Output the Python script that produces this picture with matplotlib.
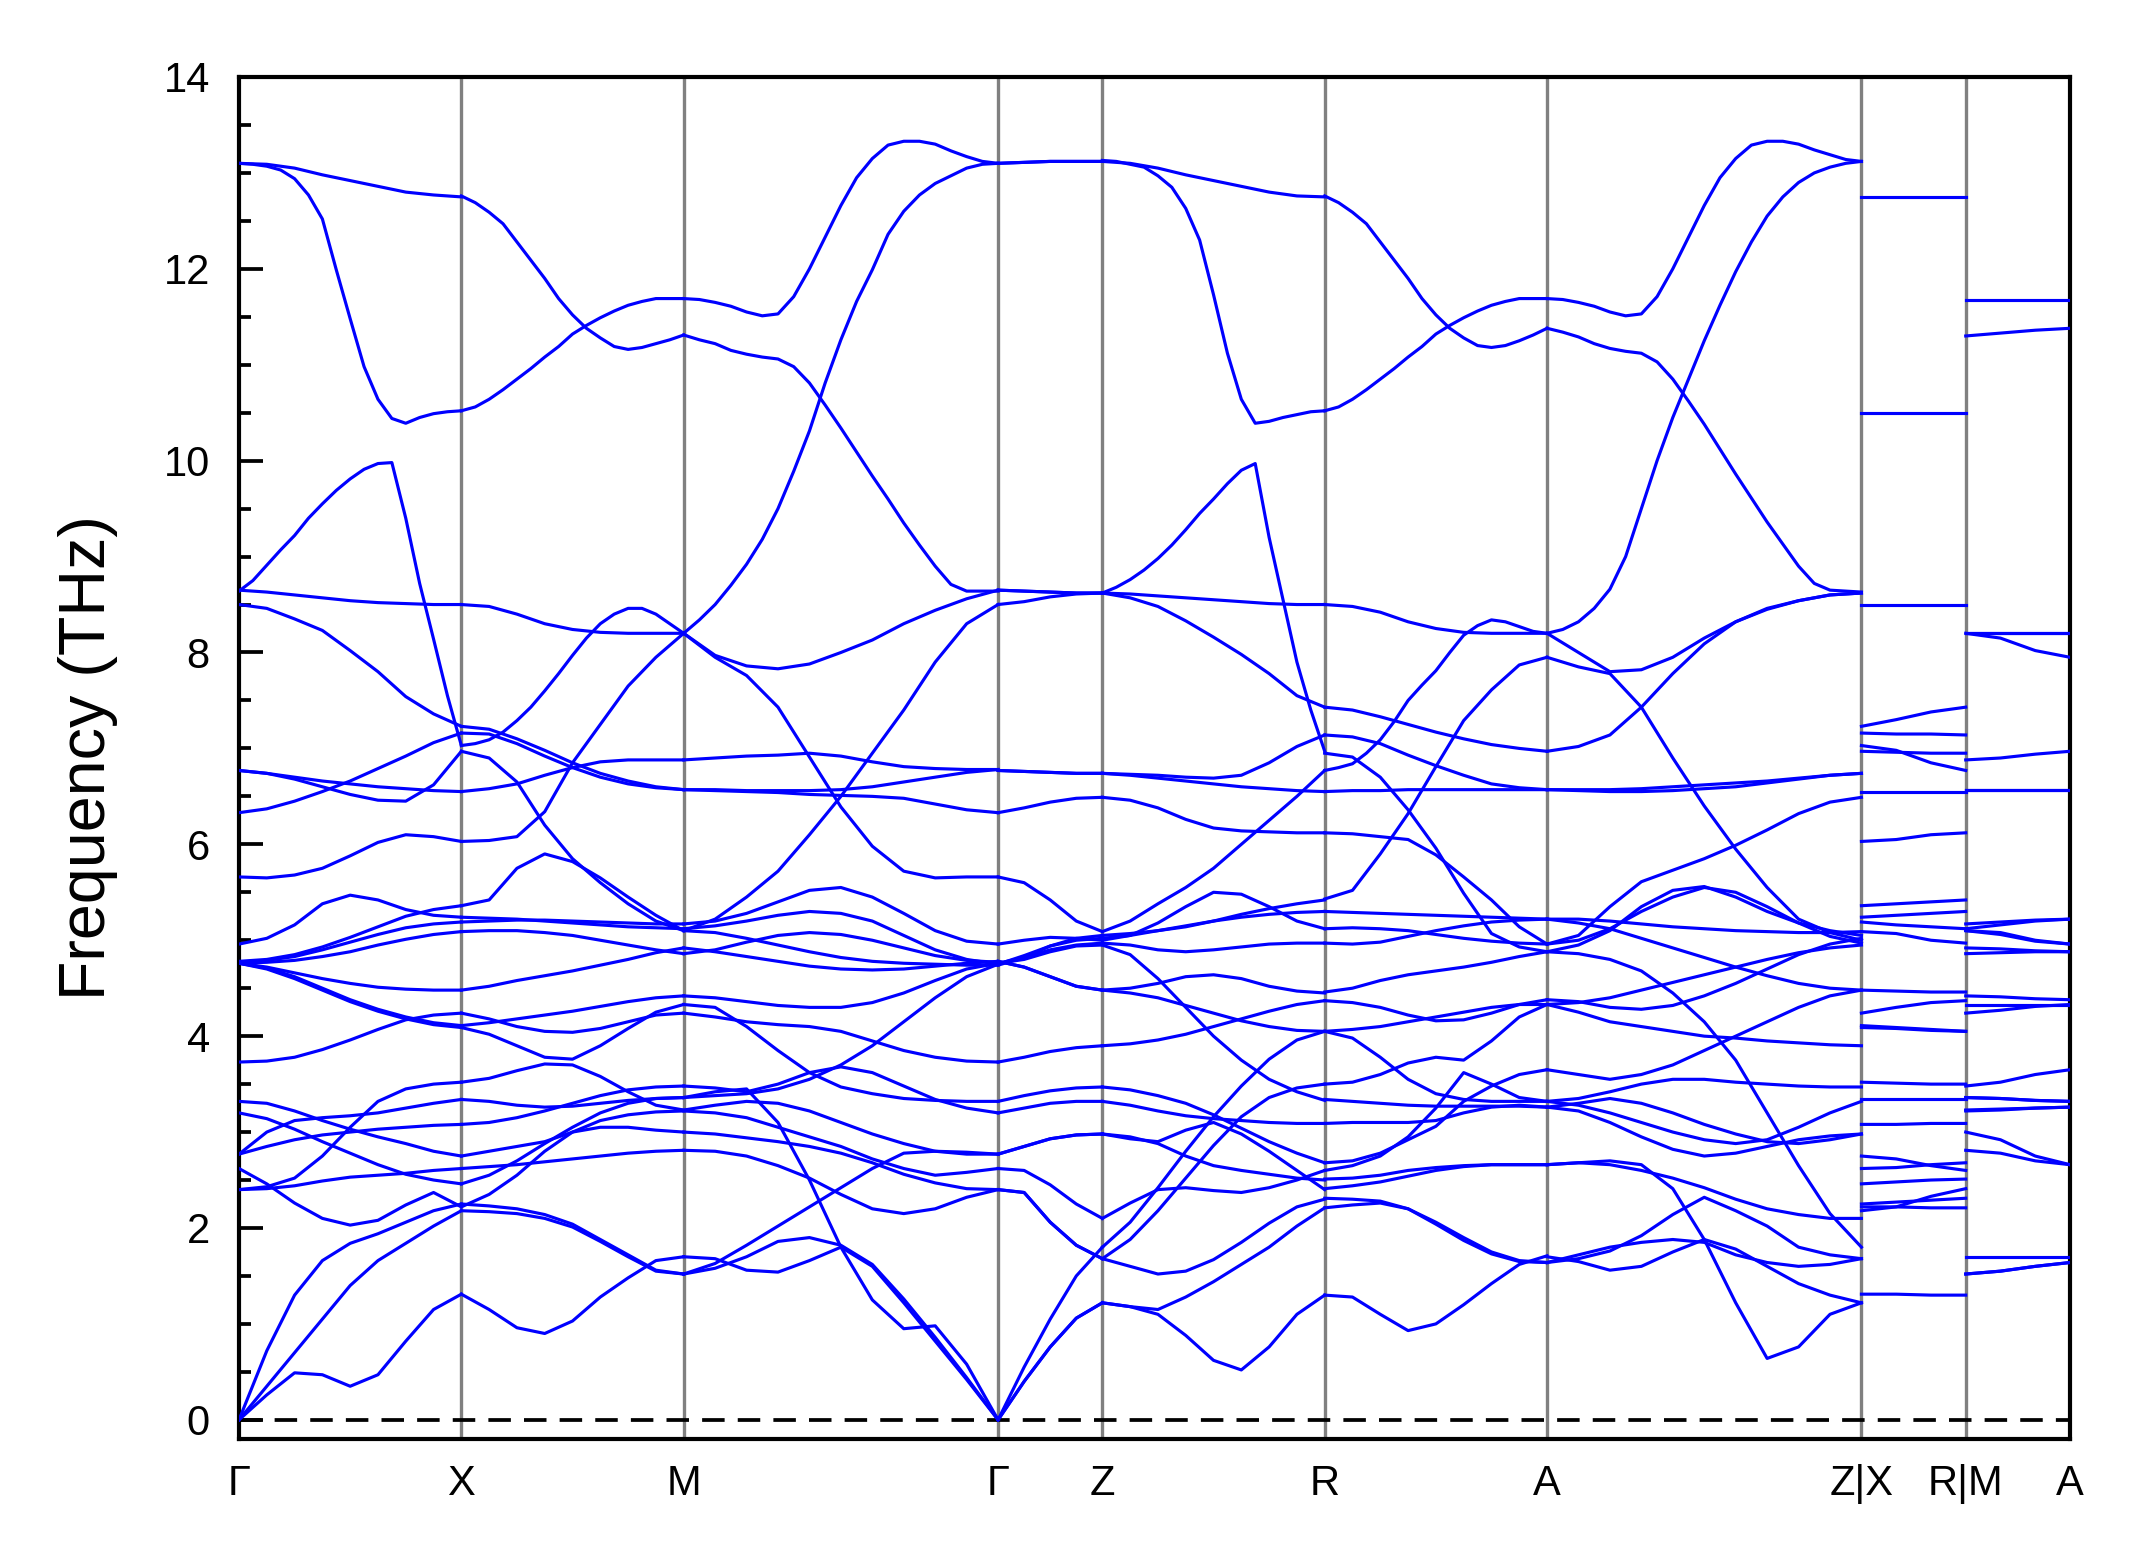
import matplotlib
matplotlib.use("Agg")
import matplotlib.pyplot as plt
import numpy as np
from matplotlib.ticker import MultipleLocator

plt.rcParams['font.family'] = ['Liberation Sans', 'DejaVu Sans']

# ---------------- data ----------------
LABELS = ['Γ', 'X', 'M', 'Γ', 'Z', 'R', 'A', 'Z|X', 'R|M', 'A']
# k-path segment lengths (Γ-X, X-M, M-Γ, Γ-Z, Z-R, R-A, A-Z, X-R, M-A)
SEG_LEN = [1.0, 1.0, 1.414, 0.469, 1.0, 1.0, 1.414, 0.469, 0.469]

# each list: band frequencies (THz) read at evenly spaced points along the segment
GX = [
    [13.1, 13.09, 13.05, 12.98, 12.92, 12.86, 12.8, 12.77, 12.75],
    [13.1, 13.09, 13.07, 13.03, 12.94, 12.77, 12.52, 11.99, 11.48, 10.98, 10.64,
     10.44, 10.39, 10.45, 10.49, 10.51, 10.52],
    [8.64, 8.75, 8.91, 9.07, 9.22, 9.4, 9.55, 9.69, 9.81, 9.91, 9.97, 9.98, 9.4,
     8.72, 8.14, 7.55, 7.03],
    [8.65, 8.63, 8.6, 8.57, 8.54, 8.52, 8.51, 8.5, 8.5],
    [8.5, 8.46, 8.35, 8.23, 8.02, 7.8, 7.54, 7.36, 7.23],
    [6.33, 6.37, 6.45, 6.55, 6.66, 6.79, 6.92, 7.06, 7.16],
    [6.77, 6.74, 6.7, 6.66, 6.63, 6.6, 6.58, 6.56, 6.55],
    [6.77, 6.74, 6.68, 6.6, 6.52, 6.46, 6.45, 6.62, 6.97],
    [5.66, 5.65, 5.68, 5.75, 5.88, 6.02, 6.1, 6.08, 6.03],
    [4.96, 5.02, 5.16, 5.38, 5.47, 5.42, 5.32, 5.26, 5.24],
    [4.78, 4.8, 4.85, 4.93, 5.03, 5.14, 5.25, 5.32, 5.36],
    [4.77, 4.79, 4.83, 4.9, 4.98, 5.06, 5.13, 5.17, 5.19],
    [4.76, 4.77, 4.79, 4.83, 4.88, 4.95, 5.01, 5.06, 5.09],
    [4.76, 4.72, 4.66, 4.6, 4.55, 4.51, 4.49, 4.48, 4.48],
    [4.76, 4.7, 4.6, 4.48, 4.36, 4.26, 4.18, 4.12, 4.09],
    [4.76, 4.71, 4.62, 4.5, 4.38, 4.28, 4.2, 4.14, 4.11],
    [3.73, 3.74, 3.78, 3.86, 3.96, 4.07, 4.17, 4.22, 4.24],
    [2.40, 2.41, 2.44, 2.49, 2.53, 2.55, 2.57, 2.6, 2.62],
    [2.40, 2.43, 2.52, 2.75, 3.05, 3.32, 3.45, 3.5, 3.52],
    [2.77, 3.0, 3.12, 3.15, 3.17, 3.2, 3.25, 3.3, 3.34],
    [2.77, 2.85, 2.92, 2.97, 3.0, 3.03, 3.05, 3.07, 3.08],
    [3.2, 3.14, 3.03, 2.9, 2.78, 2.66, 2.56, 2.5, 2.46],
    [3.32, 3.3, 3.22, 3.12, 3.03, 2.95, 2.88, 2.8, 2.75],
    [2.62, 2.46, 2.26, 2.1, 2.03, 2.08, 2.24, 2.37, 2.22],
    [0.0, 0.26, 0.49, 0.47, 0.35, 0.47, 0.82, 1.15, 1.31],
    [0.0, 0.35, 0.7, 1.05, 1.4, 1.66, 1.84, 2.02, 2.18],
    [0.0, 0.72, 1.3, 1.66, 1.84, 1.94, 2.06, 2.18, 2.25],
]

XM = [
    [12.76, 12.69, 12.59, 12.47, 12.28, 12.09, 11.9, 11.69, 11.52, 11.38, 11.28,
     11.19, 11.16, 11.18, 11.22, 11.26, 11.31],
    [10.52, 10.56, 10.64, 10.74, 10.85, 10.96, 11.08, 11.19, 11.32, 11.41, 11.49,
     11.56, 11.62, 11.66, 11.69, 11.69, 11.69],
    [8.5, 8.48, 8.4, 8.3, 8.24, 8.21, 8.2, 8.2, 8.2],
    [7.03, 7.05, 7.09, 7.17, 7.29, 7.43, 7.6, 7.78, 7.97, 8.15, 8.3, 8.4, 8.46,
     8.46, 8.4, 8.3, 8.2],
    [6.03, 6.04, 6.08, 6.34, 6.85, 7.25, 7.65, 7.95, 8.2],
    [7.23, 7.2, 7.1, 6.98, 6.85, 6.74, 6.66, 6.6, 6.57],
    [7.16, 7.15, 7.05, 6.92, 6.8, 6.7, 6.63, 6.59, 6.57],
    [6.97, 6.9, 6.65, 6.2, 5.85, 5.6, 5.38, 5.2, 5.1],
    [6.55, 6.58, 6.63, 6.72, 6.8, 6.86, 6.88, 6.88, 6.88],
    [5.36, 5.42, 5.75, 5.9, 5.82, 5.65, 5.45, 5.26, 5.1],
    [5.24, 5.23, 5.22, 5.2, 5.18, 5.16, 5.14, 5.13, 5.12],
    [5.19, 5.2, 5.21, 5.21, 5.2, 5.19, 5.18, 5.17, 5.17],
    [5.09, 5.1, 5.1, 5.08, 5.05, 5.0, 4.95, 4.9, 4.86],
    [4.48, 4.52, 4.58, 4.63, 4.68, 4.74, 4.8, 4.87, 4.92],
    [4.24, 4.18, 4.1, 4.05, 4.04, 4.08, 4.15, 4.22, 4.24],
    [4.11, 4.14, 4.18, 4.22, 4.26, 4.31, 4.36, 4.4, 4.42],
    [4.09, 4.02, 3.9, 3.78, 3.76, 3.9, 4.08, 4.25, 4.33],
    [3.52, 3.56, 3.64, 3.71, 3.7, 3.58, 3.42, 3.28, 3.23],
    [3.34, 3.32, 3.28, 3.26, 3.27, 3.3, 3.33, 3.35, 3.36],
    [3.08, 3.1, 3.15, 3.22, 3.3, 3.38, 3.44, 3.47, 3.48],
    [2.75, 2.8, 2.85, 2.9, 3.0, 3.05, 3.05, 3.02, 3.0],
    [2.62, 2.64, 2.66, 2.69, 2.72, 2.75, 2.78, 2.8, 2.81],
    [2.46, 2.55, 2.7, 2.88, 3.05, 3.2, 3.3, 3.35, 3.36],
    [2.22, 2.35, 2.55, 2.8, 3.0, 3.12, 3.18, 3.21, 3.22],
    [2.25, 2.23, 2.2, 2.14, 2.04, 1.88, 1.72, 1.56, 1.52],
    [2.18, 2.17, 2.15, 2.1, 2.01, 1.86, 1.7, 1.55, 1.52],
    [1.31, 1.15, 0.96, 0.9, 1.03, 1.28, 1.48, 1.66, 1.70],
]

MG = [
    [11.69, 11.68, 11.65, 11.61, 11.55, 11.51, 11.53, 11.71, 12.0, 12.33, 12.66,
     12.95, 13.15, 13.29, 13.33, 13.33, 13.3, 13.23, 13.17, 13.12, 13.1],
    [11.31, 11.26, 11.22, 11.15, 11.11, 11.08, 11.06, 10.98, 10.81, 10.58, 10.34,
     10.09, 9.84, 9.6, 9.35, 9.12, 8.9, 8.71, 8.64, 8.64, 8.64],
    [8.2, 8.34, 8.5, 8.7, 8.92, 9.18, 9.5, 9.89, 10.31, 10.81, 11.26, 11.66,
     11.99, 12.36, 12.6, 12.77, 12.89, 12.97, 13.05, 13.09, 13.1],
    [8.2, 7.97, 7.86, 7.83, 7.88, 8.0, 8.13, 8.3, 8.44, 8.56, 8.65],
    [8.2, 7.95, 7.76, 7.43, 6.91, 6.39, 5.98, 5.72, 5.65, 5.66, 5.66],
    [5.1, 5.22, 5.45, 5.72, 6.1, 6.5, 6.95, 7.4, 7.9, 8.3, 8.5],
    [6.88, 6.9, 6.92, 6.93, 6.95, 6.92, 6.86, 6.81, 6.79, 6.78, 6.78],
    [6.57, 6.56, 6.55, 6.54, 6.52, 6.51, 6.5, 6.48, 6.42, 6.36, 6.33],
    [6.57, 6.57, 6.56, 6.56, 6.56, 6.57, 6.6, 6.65, 6.7, 6.75, 6.78],
    [5.17, 5.2, 5.28, 5.4, 5.52, 5.55, 5.45, 5.28, 5.1, 4.99, 4.96],
    [4.86, 4.9, 4.98, 5.05, 5.08, 5.06, 5.0, 4.92, 4.84, 4.79, 4.77],
    [4.92, 4.88, 4.83, 4.78, 4.73, 4.7, 4.69, 4.7, 4.73, 4.76, 4.78],
    [5.12, 5.15, 5.2, 5.26, 5.3, 5.28, 5.2, 5.05, 4.9, 4.8, 4.75],
    [5.1, 5.08, 5.02, 4.95, 4.88, 4.82, 4.78, 4.76, 4.75, 4.74, 4.74],
    [4.42, 4.4, 4.36, 4.32, 4.3, 4.3, 4.35, 4.45, 4.58, 4.7, 4.76],
    [3.36, 3.38, 3.4, 3.45, 3.55, 3.7, 3.9, 4.15, 4.4, 4.62, 4.75],
    [4.33, 4.3, 4.1, 3.85, 3.62, 3.47, 3.4, 3.35, 3.33, 3.32, 3.32],
    [4.24, 4.2, 4.15, 4.12, 4.1, 4.05, 3.95, 3.85, 3.78, 3.74, 3.73],
    [3.48, 3.46, 3.42, 3.5, 3.62, 3.68, 3.62, 3.48, 3.34, 3.25, 3.2],
    [3.22, 3.2, 3.15, 3.05, 2.95, 2.85, 2.72, 2.62, 2.55, 2.58, 2.62],
    [3.23, 3.28, 3.32, 3.3, 3.22, 3.1, 2.98, 2.88, 2.8, 2.77, 2.77],
    [3.0, 2.98, 2.94, 2.9, 2.85, 2.78, 2.68, 2.56, 2.47, 2.41, 2.40],
    [2.81, 2.8, 2.75, 2.65, 2.52, 2.35, 2.2, 2.15, 2.2, 2.32, 2.40],
    [1.52, 1.63, 1.82, 2.02, 2.22, 2.42, 2.62, 2.78, 2.8, 2.79, 2.77],
    [3.36, 3.42, 3.45, 3.1, 2.5, 1.8, 1.25, 0.95, 0.98, 0.58, 0.0],
    [1.70, 1.68, 1.56, 1.54, 1.66, 1.8, 1.6, 1.22, 0.82, 0.42, 0.0],
    [1.52, 1.58, 1.7, 1.86, 1.9, 1.82, 1.62, 1.26, 0.86, 0.44, 0.0],
]

GZ = [
    [13.1, 13.11, 13.12, 13.12, 13.12],
    [13.1, 13.11, 13.12, 13.12, 13.12],
    [8.65, 8.64, 8.63, 8.62, 8.62],
    [8.65, 8.64, 8.63, 8.62, 8.62],
    [8.5, 8.53, 8.58, 8.61, 8.62],
    [6.77, 6.76, 6.75, 6.74, 6.74],
    [6.77, 6.76, 6.75, 6.74, 6.74],
    [6.33, 6.38, 6.44, 6.48, 6.49],
    [5.66, 5.6, 5.42, 5.2, 5.09],
    [4.96, 5.0, 5.03, 5.02, 5.0],
    [4.78, 4.72, 4.62, 4.52, 4.48],
    [4.78, 4.72, 4.62, 4.52, 4.48],
    [4.76, 4.8, 4.88, 4.94, 4.95],
    [4.76, 4.82, 4.9, 4.95, 4.97],
    [4.75, 4.84, 4.94, 5.0, 5.02],
    [4.74, 4.82, 4.94, 5.02, 5.05],
    [3.73, 3.78, 3.84, 3.88, 3.9],
    [3.32, 3.38, 3.43, 3.46, 3.47],
    [3.2, 3.25, 3.3, 3.32, 3.32],
    [2.77, 2.85, 2.93, 2.97, 2.98],
    [2.77, 2.85, 2.93, 2.97, 2.98],
    [2.62, 2.6, 2.45, 2.25, 2.1],
    [2.40, 2.37, 2.06, 1.82, 1.68],
    [2.40, 2.37, 2.06, 1.82, 1.68],
    [0.0, 0.4, 0.76, 1.06, 1.22],
    [0.0, 0.4, 0.76, 1.06, 1.22],
    [0.0, 0.55, 1.05, 1.5, 1.8],
]

ZR = [
    [13.12, 13.1, 13.05, 12.98, 12.92, 12.86, 12.8, 12.76, 12.75],
    [13.13, 13.12, 13.09, 13.06, 12.97, 12.85, 12.63, 12.3, 11.73, 11.12, 10.64,
     10.39, 10.41, 10.45, 10.48, 10.51, 10.52],
    [8.62, 8.68, 8.76, 8.86, 8.98, 9.12, 9.28, 9.45, 9.6, 9.76, 9.9, 9.97, 9.2,
     8.55, 7.9, 7.4, 6.97],
    [8.62, 8.61, 8.59, 8.57, 8.55, 8.53, 8.51, 8.5, 8.5],
    [8.62, 8.57, 8.48, 8.33, 8.16, 7.98, 7.78, 7.55, 7.43],
    [6.74, 6.73, 6.72, 6.7, 6.69, 6.72, 6.85, 7.02, 7.14],
    [6.74, 6.72, 6.69, 6.66, 6.63, 6.6, 6.58, 6.56, 6.55],
    [6.49, 6.46, 6.38, 6.26, 6.17, 6.14, 6.13, 6.12, 6.12],
    [5.09, 5.2, 5.38, 5.55, 5.75, 6.0, 6.25, 6.5, 6.77],
    [5.0, 5.05, 5.18, 5.35, 5.5, 5.48, 5.35, 5.2, 5.12],
    [5.02, 5.05, 5.1, 5.15, 5.2, 5.24, 5.27, 5.29, 5.3],
    [5.05, 5.07, 5.1, 5.14, 5.2, 5.27, 5.33, 5.38, 5.42],
    [4.97, 4.95, 4.9, 4.88, 4.9, 4.93, 4.96, 4.97, 4.97],
    [4.95, 4.85, 4.6, 4.3, 4.0, 3.75, 3.55, 3.42, 3.33],
    [4.48, 4.5, 4.55, 4.62, 4.64, 4.6, 4.52, 4.47, 4.45],
    [4.48, 4.45, 4.4, 4.32, 4.24, 4.16, 4.1, 4.06, 4.05],
    [3.9, 3.92, 3.96, 4.02, 4.1, 4.18, 4.26, 4.33, 4.37],
    [3.47, 3.44, 3.38, 3.3, 3.18, 3.04, 2.9, 2.78, 2.68],
    [3.32, 3.28, 3.22, 3.17, 3.14, 3.12, 3.1, 3.09, 3.09],
    [2.98, 2.95, 2.88, 2.75, 2.65, 2.6, 2.56, 2.52, 2.5],
    [2.98, 2.93, 2.9, 3.02, 3.1, 2.98, 2.8, 2.6, 2.4],
    [2.1, 2.26, 2.4, 2.42, 2.39, 2.37, 2.42, 2.5, 2.6],
    [1.8, 2.06, 2.42, 2.8, 3.16, 3.48, 3.76, 3.96, 4.05],
    [1.68, 1.88, 2.18, 2.52, 2.86, 3.16, 3.36, 3.46, 3.5],
    [1.68, 1.6, 1.52, 1.55, 1.67, 1.85, 2.05, 2.22, 2.3],
    [1.22, 1.18, 1.1, 0.88, 0.62, 0.52, 0.76, 1.1, 1.3],
    [1.22, 1.18, 1.15, 1.28, 1.44, 1.62, 1.8, 2.02, 2.21],
]

RA = [
    [12.76, 12.69, 12.59, 12.47, 12.28, 12.09, 11.9, 11.69, 11.52, 11.38, 11.28,
     11.2, 11.18, 11.2, 11.25, 11.31, 11.38],
    [10.52, 10.56, 10.64, 10.74, 10.85, 10.96, 11.08, 11.19, 11.32, 11.41, 11.49,
     11.56, 11.62, 11.66, 11.69, 11.69, 11.69],
    [8.5, 8.48, 8.42, 8.32, 8.25, 8.21, 8.2, 8.2, 8.2],
    [7.43, 7.4, 7.33, 7.25, 7.17, 7.1, 7.04, 7.0, 6.97],
    [6.77, 6.8, 6.84, 6.95, 7.09, 7.28, 7.5, 7.66, 7.81, 8.0, 8.18, 8.28, 8.34,
     8.32, 8.27, 8.22, 8.2],
    [5.43, 5.52, 5.9, 6.32, 6.81, 7.29, 7.61, 7.87, 7.95],
    [7.14, 7.12, 7.05, 6.93, 6.82, 6.72, 6.63, 6.59, 6.57],
    [6.55, 6.56, 6.56, 6.57, 6.57, 6.57, 6.57, 6.57, 6.57],
    [6.95, 6.91, 6.7, 6.36, 5.96, 5.49, 5.07, 4.93, 4.88],
    [6.12, 6.11, 6.08, 6.05, 5.89, 5.66, 5.42, 5.14, 4.96],
    [5.3, 5.29, 5.28, 5.27, 5.26, 5.25, 5.24, 5.23, 5.22],
    [4.97, 4.96, 4.98, 5.04, 5.1, 5.15, 5.19, 5.21, 5.22],
    [5.12, 5.13, 5.12, 5.1, 5.06, 5.02, 4.99, 4.97, 4.96],
    [4.46, 4.5, 4.58, 4.64, 4.68, 4.72, 4.77, 4.83, 4.88],
    [4.37, 4.35, 4.3, 4.22, 4.16, 4.17, 4.24, 4.33, 4.38],
    [4.05, 4.07, 4.1, 4.15, 4.2, 4.25, 4.3, 4.33, 4.33],
    [4.05, 3.98, 3.78, 3.55, 3.4, 3.34, 3.32, 3.32, 3.32],
    [3.5, 3.52, 3.6, 3.72, 3.78, 3.75, 3.95, 4.2, 4.33],
    [3.34, 3.32, 3.3, 3.28, 3.27, 3.27, 3.27, 3.27, 3.26],
    [3.09, 3.1, 3.1, 3.1, 3.12, 3.2, 3.26, 3.28, 3.26],
    [2.68, 2.7, 2.78, 2.92, 3.06, 3.32, 3.48, 3.6, 3.65],
    [2.6, 2.65, 2.75, 2.95, 3.25, 3.62, 3.5, 3.36, 3.32],
    [2.51, 2.52, 2.55, 2.6, 2.63, 2.65, 2.66, 2.66, 2.66],
    [2.41, 2.44, 2.48, 2.54, 2.6, 2.64, 2.66, 2.66, 2.66],
    [2.31, 2.3, 2.28, 2.2, 2.04, 1.87, 1.73, 1.65, 1.64],
    [2.21, 2.24, 2.26, 2.2, 2.06, 1.9, 1.75, 1.66, 1.64],
    [1.3, 1.28, 1.1, 0.93, 1.0, 1.2, 1.42, 1.62, 1.71],
]

AZ = [
    [11.69, 11.68, 11.65, 11.61, 11.55, 11.51, 11.53, 11.71, 12.0, 12.33, 12.66,
     12.95, 13.15, 13.29, 13.33, 13.33, 13.3, 13.24, 13.19, 13.14, 13.12],
    [11.38, 11.34, 11.29, 11.22, 11.17, 11.14, 11.12, 11.03, 10.85, 10.62, 10.38,
     10.12, 9.86, 9.61, 9.36, 9.13, 8.9, 8.72, 8.65, 8.64, 8.63],
    [8.2, 8.24, 8.32, 8.46, 8.66, 9.0, 9.5, 10.0, 10.45, 10.85, 11.25, 11.62,
     11.97, 12.28, 12.55, 12.75, 12.9, 13.0, 13.06, 13.1, 13.12],
    [8.2, 8.0, 7.8, 7.82, 7.95, 8.15, 8.32, 8.45, 8.54, 8.6, 8.62],
    [7.95, 7.85, 7.78, 7.43, 6.9, 6.4, 5.95, 5.55, 5.22, 5.08, 5.0],
    [6.97, 7.02, 7.14, 7.43, 7.78, 8.09, 8.32, 8.46, 8.54, 8.6, 8.62],
    [6.57, 6.57, 6.57, 6.58, 6.6, 6.62, 6.64, 6.66, 6.69, 6.72, 6.74],
    [6.57, 6.56, 6.55, 6.55, 6.56, 6.58, 6.6, 6.64, 6.68, 6.72, 6.74],
    [4.96, 5.05, 5.35, 5.61, 5.73, 5.85, 5.99, 6.15, 6.32, 6.44, 6.49],
    [5.22, 5.22, 5.2, 5.17, 5.14, 5.12, 5.1, 5.09, 5.08, 5.08, 5.09],
    [5.22, 5.18, 5.12, 5.02, 4.92, 4.82, 4.72, 4.63, 4.55, 4.5, 4.48],
    [4.96, 5.0, 5.12, 5.3, 5.45, 5.55, 5.5, 5.35, 5.18, 5.04, 4.97],
    [4.88, 4.95, 5.1, 5.35, 5.52, 5.56, 5.45, 5.3, 5.18, 5.1, 5.05],
    [4.38, 4.36, 4.3, 4.28, 4.32, 4.42, 4.55, 4.7, 4.85, 4.96, 5.02],
    [4.33, 4.35, 4.4, 4.48, 4.56, 4.64, 4.72, 4.8, 4.87, 4.92, 4.95],
    [4.33, 4.25, 4.15, 4.1, 4.05, 4.0, 3.98, 3.95, 3.93, 3.91, 3.9],
    [3.65, 3.6, 3.55, 3.6, 3.7, 3.85, 4.0, 4.15, 4.3, 4.42, 4.48],
    [3.32, 3.35, 3.42, 3.5, 3.55, 3.55, 3.52, 3.5, 3.48, 3.47, 3.47],
    [3.32, 3.28, 3.2, 3.1, 3.0, 2.92, 2.88, 2.92, 3.05, 3.2, 3.32],
    [3.26, 3.3, 3.35, 3.3, 3.2, 3.08, 2.98, 2.9, 2.88, 2.92, 2.98],
    [3.26, 3.22, 3.1, 2.95, 2.82, 2.75, 2.78, 2.85, 2.92, 2.96, 2.98],
    [4.88, 4.86, 4.8, 4.68, 4.45, 4.15, 3.75, 3.2, 2.65, 2.15, 1.8],
    [2.66, 2.68, 2.7, 2.66, 2.41, 1.88, 1.22, 0.64, 0.76, 1.1, 1.22],
    [2.66, 2.68, 2.66, 2.6, 2.52, 2.42, 2.3, 2.2, 2.14, 2.1, 2.1],
    [1.7, 1.65, 1.56, 1.6, 1.75, 1.88, 1.78, 1.6, 1.42, 1.3, 1.22],
    [1.64, 1.68, 1.76, 1.92, 2.14, 2.32, 2.18, 2.02, 1.8, 1.72, 1.68],
    [1.64, 1.72, 1.8, 1.85, 1.88, 1.85, 1.72, 1.64, 1.6, 1.62, 1.68],
]

XR = [
    [12.75, 12.75, 12.75, 12.75], [10.5, 10.5, 10.5, 10.5], [8.5, 8.5, 8.5, 8.5],
    [7.23, 7.3, 7.38, 7.43], [7.16, 7.15, 7.15, 7.14], [7.03, 6.98, 6.85, 6.77],
    [6.97, 6.96, 6.95, 6.95], [6.55, 6.55, 6.55, 6.55], [6.03, 6.05, 6.1, 6.12],
    [5.36, 5.38, 5.4, 5.42], [5.24, 5.26, 5.28, 5.3], [5.19, 5.16, 5.14, 5.12],
    [5.09, 5.07, 5.0, 4.97], [4.48, 4.47, 4.46, 4.46], [4.24, 4.3, 4.35, 4.37],
    [4.11, 4.09, 4.07, 4.05], [4.09, 4.08, 4.06, 4.05], [3.52, 3.51, 3.5, 3.5],
    [3.34, 3.34, 3.34, 3.34], [3.08, 3.08, 3.09, 3.09], [2.75, 2.72, 2.65, 2.6],
    [2.62, 2.63, 2.66, 2.68], [2.46, 2.48, 2.5, 2.51], [2.25, 2.27, 2.29, 2.31],
    [2.22, 2.22, 2.21, 2.21], [2.18, 2.22, 2.33, 2.41], [1.31, 1.31, 1.3, 1.3],
]

MA = [
    [11.68, 11.68, 11.68, 11.68], [11.3, 11.33, 11.36, 11.38], [8.2, 8.2, 8.2, 8.2],
    [8.2, 8.2, 8.2, 8.2], [8.2, 8.15, 8.02, 7.95], [6.88, 6.9, 6.94, 6.97],
    [6.57, 6.57, 6.57, 6.57], [6.57, 6.57, 6.57, 6.57],
    [5.17, 5.19, 5.21, 5.22], [5.12, 5.16, 5.2, 5.22], [5.1, 5.08, 5.0, 4.96],
    [5.1, 5.06, 4.99, 4.96], [4.92, 4.91, 4.89, 4.88], [4.86, 4.87, 4.88, 4.88],
    [4.42, 4.41, 4.39, 4.38], [4.33, 4.33, 4.33, 4.33], [4.24, 4.27, 4.31, 4.33],
    [3.48, 3.52, 3.6, 3.65], [3.36, 3.35, 3.33, 3.32], [3.36, 3.35, 3.33, 3.32],
    [3.23, 3.24, 3.25, 3.26], [3.22, 3.23, 3.25, 3.26], [3.0, 2.92, 2.75, 2.66],
    [2.81, 2.78, 2.7, 2.66], [1.7, 1.7, 1.7, 1.7], [1.52, 1.55, 1.6, 1.64],
    [1.52, 1.55, 1.6, 1.64],
]

SEGMENTS = [GX, XM, MG, GZ, ZR, RA, AZ, XR, MA]

# ---------------- plot ----------------
W, H, DPI = 2145, 1567, 300
fig = plt.figure(figsize=(W / DPI, H / DPI), dpi=DPI)
ax = fig.add_axes([239 / W, 1 - 1439 / H, (2070 - 239) / W, (1439 - 77) / H])

nodes = np.concatenate([[0.0], np.cumsum(SEG_LEN)])

for i, seg in enumerate(SEGMENTS):
    for band in seg:
        t = np.linspace(0.0, 1.0, len(band))
        ax.plot(nodes[i] + t * SEG_LEN[i], band, color='#0000ff', lw=0.75,
                solid_joinstyle='round', zorder=3)

for xv in nodes[1:-1]:
    ax.axvline(xv, color='#808080', lw=0.8, zorder=1)

ax.axhline(0.0, color='black', lw=0.9, ls=(0, (6, 3.5)), zorder=2)

ax.set_xlim(nodes[0], nodes[-1])
ax.set_ylim(-0.2, 14)
ax.set_xticks(nodes)
ax.set_xticklabels(LABELS)
ax.yaxis.set_major_locator(MultipleLocator(2))
ax.yaxis.set_minor_locator(MultipleLocator(0.5))
ax.tick_params(axis='y', which='major', direction='in', length=5.8, width=0.9,
               labelsize=10, pad=7)
ax.tick_params(axis='y', which='minor', direction='in', length=2.9, width=0.9)
ax.tick_params(axis='x', which='both', length=0, labelsize=10, pad=6)
ax.set_ylabel('Frequency (THz)', fontsize=15.5, labelpad=11)
for sp in ax.spines.values():
    sp.set_linewidth(1.0)

fig.savefig('out.png', dpi=DPI)
